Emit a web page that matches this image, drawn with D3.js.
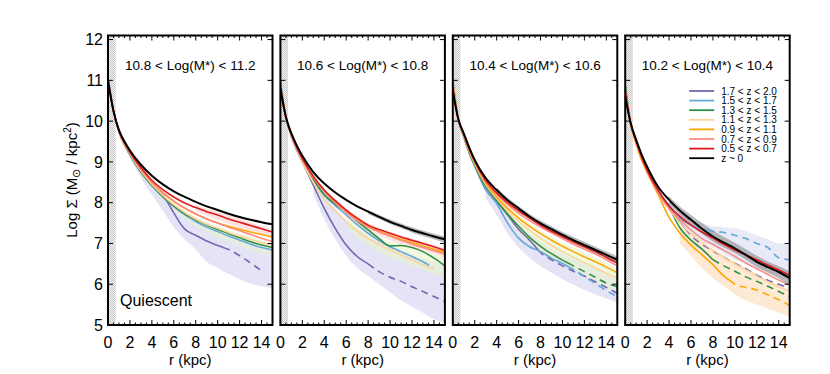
<!DOCTYPE html>
<html>
<head>
<meta charset="utf-8">
<script src="https://cdn.jsdelivr.net/npm/d3@7"></script>
<style>
  body { margin: 0; background: #fff; }
  text { font-family: "Liberation Sans", Arial, Helvetica, sans-serif; fill: #000; }
</style>
</head>
<body>
<script>
// radii (kpc) where the profiles were read
var radii = [0, 0.5, 1, 1.5, 2, 3, 4, 5, 6, 7, 8, 9, 10, 11, 12, 13, 14, 15];

var zLabels = ["1.7 < z < 2.0", "1.5 < z < 1.7", "1.3 < z < 1.5", "1.1 < z < 1.3",
               "0.9 < z < 1.1", "0.7 < z < 0.9", "0.5 < z < 0.7", "z ~ 0"];
var colors = ["#7566b0", "#62a8d8", "#2f8f45", "#fdd49e", "#ffa500", "#fb8a80", "#e0191e", "#000000"];

var panelTitles = ["10.8 < Log(M*) < 11.2", "10.6 < Log(M*) < 10.8",
                   "10.4 < Log(M*) < 10.6", "10.2 < Log(M*) < 10.4"];
var xTicks = [0, 2, 4, 6, 8, 10, 12, 14];
var yTicks = [5, 6, 7, 8, 9, 10, 11, 12];

// profiles per panel, order = zLabels
var profiles1 = [
  [11.0,10.25,9.74,9.42,9.18,8.78,8.5,8.2,7.75,7.35,7.2,7.06,6.95,6.85,6.7,6.52,6.33,null],
  [11.1,10.25,9.74,9.42,9.18,8.75,8.42,8.14,7.9,7.7,7.54,7.4,7.29,7.18,7.08,6.98,6.9,6.84],
  [11.05,10.25,9.74,9.42,9.18,8.75,8.42,8.15,7.92,7.73,7.58,7.45,7.34,7.24,7.14,7.04,6.96,6.9],
  [11.0,10.25,9.74,9.43,9.2,8.78,8.45,8.18,7.95,7.76,7.6,7.47,7.37,7.27,7.18,7.1,7.02,6.96],
  [11.0,10.25,9.75,9.45,9.22,8.82,8.5,8.24,8.03,7.86,7.72,7.6,7.5,7.42,7.35,7.28,7.22,7.16],
  [11.0,10.25,9.75,9.45,9.22,8.82,8.5,8.25,8.04,7.87,7.73,7.6,7.5,7.4,7.31,7.22,7.13,7.05],
  [11.0,10.25,9.76,9.47,9.24,8.86,8.55,8.32,8.14,7.99,7.88,7.78,7.7,7.6,7.52,7.44,7.36,7.28],
  [11.0,10.25,9.78,9.5,9.28,8.93,8.66,8.45,8.28,8.14,8.02,7.91,7.82,7.73,7.65,7.58,7.52,7.47]
];
var profiles2 = [
  [10.8,10.1,9.62,9.28,9.0,8.43,7.86,7.37,6.96,6.68,6.5,6.31,6.17,6.07,5.94,5.82,5.7,5.57],
  [11.0,10.1,9.66,9.32,9.03,8.56,8.18,7.93,7.7,7.46,7.25,7.07,6.92,6.8,6.68,6.55,6.4,null],
  [10.9,10.1,9.66,9.32,9.04,8.58,8.2,7.97,7.78,7.55,7.33,7.12,6.94,6.95,6.9,6.8,6.64,6.45],
  [10.8,10.1,9.65,9.3,9.0,8.5,8.08,7.8,7.54,7.3,7.12,6.98,6.84,6.72,6.6,6.48,6.37,null],
  [10.85,10.1,9.67,9.34,9.06,8.62,8.28,8.0,7.78,7.58,7.42,7.3,7.2,7.1,7.02,6.94,6.86,6.78],
  [10.8,10.1,9.67,9.34,9.06,8.62,8.28,8.0,7.76,7.56,7.4,7.28,7.18,7.08,6.98,6.9,6.82,6.74],
  [10.8,10.1,9.68,9.35,9.08,8.65,8.31,8.05,7.82,7.62,7.45,7.34,7.25,7.16,7.08,7.0,6.92,6.83],
  [10.8,10.1,9.7,9.4,9.15,8.75,8.47,8.25,8.07,7.91,7.78,7.65,7.53,7.43,7.33,7.25,7.17,7.1]
];
var profiles3 = [
  [10.8,10.05,9.62,9.22,8.9,8.32,8.03,7.7,7.35,7.08,6.78,6.6,6.45,6.32,6.2,6.06,5.92,5.78],
  [10.9,10.05,9.62,9.22,8.9,8.32,7.98,7.5,7.13,6.92,6.8,6.64,6.51,6.36,6.19,6.02,5.84,5.7],
  [11.0,10.05,9.62,9.24,8.92,8.4,8.06,7.72,7.42,7.15,6.93,6.75,6.59,6.45,6.31,6.17,6.03,5.94],
  [10.9,10.05,9.64,9.26,8.95,8.45,8.1,7.8,7.54,7.32,7.12,6.95,6.8,6.66,6.53,6.4,6.27,6.15],
  [10.9,10.05,9.65,9.28,8.98,8.48,8.14,7.86,7.62,7.42,7.24,7.08,6.93,6.8,6.67,6.55,6.42,6.28],
  [10.9,10.05,9.66,9.3,9.0,8.52,8.2,7.95,7.74,7.56,7.4,7.26,7.12,6.98,6.86,6.74,6.6,6.45],
  [10.8,10.05,9.68,9.32,9.02,8.55,8.24,8.0,7.8,7.62,7.45,7.3,7.17,7.04,6.92,6.8,6.66,6.52],
  [10.75,10.05,9.7,9.35,9.05,8.6,8.31,8.06,7.86,7.66,7.49,7.35,7.21,7.08,6.96,6.84,6.72,6.6]
];
var profiles4 = [
  [10.7,9.95,9.5,9.12,8.8,8.3,7.88,7.52,7.2,6.98,6.82,6.66,6.51,6.38,6.22,6.1,6.0,5.9],
  [10.75,9.95,9.5,9.12,8.8,8.28,7.95,7.62,7.45,7.36,7.3,7.27,7.2,7.12,7.0,6.9,6.65,6.6],
  [10.9,9.95,9.48,9.08,8.75,8.3,7.88,7.38,7.08,6.86,6.6,6.45,6.32,6.18,6.07,5.95,5.82,5.7],
  [10.75,9.95,9.48,9.08,8.74,8.22,7.84,7.5,7.24,7.02,6.84,6.66,6.5,6.35,6.2,6.06,5.94,5.82],
  [10.75,9.9,9.44,9.04,8.75,8.2,7.64,7.25,6.96,6.72,6.48,6.2,6.0,5.92,5.86,5.74,5.62,5.48],
  [10.75,9.95,9.48,9.1,8.78,8.25,7.86,7.58,7.33,7.12,6.98,6.83,6.68,6.52,6.38,6.24,6.1,5.98],
  [10.75,9.95,9.5,9.12,8.8,8.3,7.92,7.66,7.45,7.28,7.13,6.98,6.84,6.72,6.6,6.47,6.35,6.22],
  [10.6,9.95,9.54,9.18,8.88,8.39,8.07,7.8,7.58,7.36,7.17,7.02,6.88,6.72,6.55,6.42,6.3,6.15]
];
// radius where each profile turns dashed (null = solid all the way)
var dash1 = [10.5, null, null, null, null, null, null, null];
var dash2 = [8, 13, null, null, null, null, null, null];
var dash3 = [7.8, 10.5, 10.5, null, null, null, null, null];
var dash4 = [5.5, 7.5, 8, null, 9.5, null, null, null];

// uncertainty bands: z index, lower and upper edges
var bands1 = [
  {z: 0, lo: [null,null,null,null,9.1,8.6,8.2,7.8,7.4,7.1,6.85,6.55,6.4,6.25,6.12,6.02,5.95,5.9],
         hi: [null,null,null,null,9.2,8.75,8.42,8.14,7.9,7.7,7.52,7.38,7.26,7.15,7.06,6.98,6.92,6.88]},
  {z: 3, lo: [null,null,null,null,null,null,null,null,7.82,7.6,7.42,7.28,7.15,7.04,6.94,6.85,6.78,6.72],
         hi: [null,null,null,null,null,null,null,null,7.98,7.8,7.65,7.52,7.42,7.33,7.24,7.16,7.08,7.0]},
  {z: 5, lo: [null,null,null,null,null,null,null,null,null,null,7.8,7.68,7.58,7.48,7.38,7.3,7.22,7.14],
         hi: [null,null,null,null,null,null,null,null,null,null,7.95,7.85,7.78,7.7,7.62,7.52,7.42,7.34]}
];
var bands2 = [
  {z: 0, lo: [null,null,null,null,null,8.2,7.6,7.1,6.7,6.4,6.2,6.0,5.8,5.6,5.45,5.3,5.15,5.05],
         hi: [null,null,null,null,null,8.6,8.2,7.85,7.55,7.35,7.18,7.03,6.92,6.82,6.72,6.63,6.55,6.5]},
  {z: 3, lo: [null,null,null,null,null,null,null,null,7.4,7.15,6.95,6.78,6.65,6.55,6.45,6.35,6.25,6.15],
         hi: [null,null,null,null,null,null,null,null,7.7,7.48,7.3,7.16,7.06,6.98,6.9,6.82,6.74,6.66]},
  {z: 5, lo: [null,null,null,null,null,null,null,null,7.68,7.48,7.3,7.18,7.08,6.98,6.9,6.82,6.74,6.66],
         hi: [null,null,null,null,null,null,null,null,7.85,7.66,7.5,7.38,7.28,7.2,7.12,7.04,6.96,6.88]},
  {z: 7, lo: [null,null,null,null,null,null,null,null,null,null,7.72,7.6,7.48,7.37,7.27,7.18,7.1,7.02],
         hi: [null,null,null,null,null,null,null,null,null,null,7.82,7.7,7.59,7.49,7.4,7.32,7.24,7.17]}
];
var bands3 = [
  {z: 0, lo: [null,null,null,null,null,8.1,7.7,7.25,6.9,6.65,6.45,6.28,6.12,5.98,5.86,5.75,5.65,5.55],
         hi: [null,null,null,null,null,8.4,8.1,7.8,7.5,7.25,7.05,6.88,6.75,6.62,6.5,6.38,6.26,6.16]},
  {z: 3, lo: [null,null,null,null,null,null,8.0,7.6,7.25,7.0,6.82,6.66,6.52,6.38,6.22,6.06,5.9,5.78],
         hi: [null,null,null,null,null,null,8.2,7.92,7.7,7.5,7.32,7.16,7.02,6.9,6.78,6.66,6.54,6.4]},
  {z: 7, lo: [null,null,null,null,null,null,8.25,8.0,7.8,7.6,7.42,7.28,7.14,7.0,6.88,6.76,6.64,6.52],
         hi: [null,null,null,null,null,null,8.37,8.12,7.92,7.72,7.56,7.42,7.28,7.16,7.04,6.92,6.8,6.68]}
];
var bands4 = [
  {z: 1, lo: [null,null,null,null,null,null,7.85,7.5,7.25,7.05,6.9,6.75,6.6,6.5,6.4,6.3,6.2,6.1],
         hi: [null,null,null,null,null,null,8.0,7.75,7.6,7.5,7.42,7.4,7.38,7.3,7.2,7.1,7.0,7.0]},
  {z: 4, lo: [null,null,null,null,null,null,null,7.0,6.7,6.4,6.15,5.95,5.75,5.6,5.5,5.4,5.3,5.2],
         hi: [null,null,null,null,null,null,null,7.45,7.2,7.0,6.85,6.7,6.55,6.4,6.25,6.1,5.98,5.85]},
  {z: 7, lo: [null,null,null,null,null,null,7.98,7.7,7.46,7.24,7.05,6.9,6.76,6.6,6.42,6.28,6.14,5.98],
         hi: [null,null,null,null,null,null,8.15,7.9,7.7,7.5,7.32,7.16,7.02,6.86,6.7,6.56,6.44,6.32]}
];

var panels = [
  {profiles: profiles1, dash: dash1, bands: bands1},
  {profiles: profiles2, dash: dash2, bands: bands2},
  {profiles: profiles3, dash: dash3, bands: bands3},
  {profiles: profiles4, dash: dash4, bands: bands4}
];
var bandColors = ["#d4d2f0", "#d8dcf2", "#e3f2c6", "#e6f3cc", "#fddcb8", "#fbd0ca", "#f8c4be", "#8a8a8a"];

var W = 830, H = 374;
var plotTop = 35.5, plotBottom = 325, pw = 164.5, step = 172.4, left0 = 108;

var svg = d3.select("body").append("svg")
    .attr("width", W)
    .attr("height", H);

// stippled pattern for the inner (PSF) region
var defs = svg.append("defs");
var pat = defs.append("pattern")
    .attr("id", "stip")
    .attr("width", 2).attr("height", 2)
    .attr("patternUnits", "userSpaceOnUse");
pat.append("rect").attr("width", 2).attr("height", 2).attr("fill", "#f2f2f2");
pat.append("rect").attr("width", 1).attr("height", 1).attr("fill", "#c8c8c8");
pat.append("rect").attr("x", 1).attr("y", 1).attr("width", 1).attr("height", 1).attr("fill", "#c8c8c8");

var y = d3.scaleLinear().domain([5, 12.1]).range([plotBottom, plotTop]);

function splitLine(vals, d0) {
  var pts = radii.map(function(r, i) { return [r, vals[i]]; }).filter(function(p) { return p[1] != null; });
  if (d0 == null) return {solid: pts, dashed: []};
  var solid = [], dashed = [];
  for (var i = 0; i < pts.length; i++) {
    if (pts[i][0] <= d0) solid.push(pts[i]);
    if (pts[i][0] >= d0) dashed.push(pts[i]);
  }
  // join point at the dash radius
  for (var j = 1; j < pts.length; j++) {
    if (pts[j - 1][0] < d0 && pts[j][0] > d0) {
      var t = (d0 - pts[j - 1][0]) / (pts[j][0] - pts[j - 1][0]);
      var v = pts[j - 1][1] + t * (pts[j][1] - pts[j - 1][1]);
      solid.push([d0, v]);
      dashed.unshift([d0, v]);
    }
  }
  return {solid: solid, dashed: dashed};
}

panels.forEach(function(p, k) {
  var left = left0 + k * step;
  var x = d3.scaleLinear().domain([0, 15]).range([left, left + pw]);

  var g = svg.append("g");
  var clipId = "clip" + k;
  defs.append("clipPath").attr("id", clipId)
    .append("rect").attr("x", left).attr("y", plotTop).attr("width", pw).attr("height", plotBottom - plotTop);

  var plot = g.append("g").attr("clip-path", "url(#" + clipId + ")");

  // inner region hatch
  plot.append("rect")
      .attr("x", x(0)).attr("y", plotTop)
      .attr("width", x(0.7) - x(0)).attr("height", plotBottom - plotTop)
      .attr("fill", "url(#stip)");

  // bands
  var area = d3.area()
      .defined(function(d) { return d.lo != null && d.hi != null; })
      .x(function(d) { return x(d.r); })
      .y0(function(d) { return y(d.lo); })
      .y1(function(d) { return y(d.hi); })
      .curve(d3.curveMonotoneX);
  p.bands.forEach(function(b) {
    var pts = radii.map(function(r, i) { return {r: r, lo: b.lo[i], hi: b.hi[i]}; });
    plot.append("path")
        .attr("d", area(pts))
        .attr("fill", bandColors[b.z])
        .attr("fill-opacity", b.z == 7 ? 0.6 : 0.6);
  });

  // profiles
  var line = d3.line()
      .x(function(d) { return x(d[0]); })
      .y(function(d) { return y(d[1]); })
      .curve(d3.curveMonotoneX);
  p.profiles.forEach(function(vals, i) {
    var parts = splitLine(vals, p.dash[i]);
    var sw = i == 7 ? 2 : 1.6;
    if (parts.solid.length > 1)
      plot.append("path").attr("d", line(parts.solid))
          .attr("fill", "none").attr("stroke", colors[i]).attr("stroke-width", sw);
    if (parts.dashed.length > 1)
      plot.append("path").attr("d", line(parts.dashed))
          .attr("fill", "none").attr("stroke", colors[i]).attr("stroke-width", sw)
          .attr("stroke-dasharray", "7,5");
  });

  // ticks, inside on all four sides
  var minor = d3.range(0, 15.01, 0.5);
  minor.forEach(function(t) {
    var len = (t % 2 === 0) ? 5 : 2.5;
    g.append("line").attr("x1", x(t)).attr("x2", x(t))
        .attr("y1", plotBottom).attr("y2", plotBottom - len).attr("stroke", "#000").attr("stroke-width", 1);
    g.append("line").attr("x1", x(t)).attr("x2", x(t))
        .attr("y1", plotTop).attr("y2", plotTop + len).attr("stroke", "#000").attr("stroke-width", 1);
  });
  yTicks.forEach(function(t) {
    g.append("line").attr("x1", left).attr("x2", left + 5)
        .attr("y1", y(t)).attr("y2", y(t)).attr("stroke", "#000");
    g.append("line").attr("x1", left + pw).attr("x2", left + pw - 5)
        .attr("y1", y(t)).attr("y2", y(t)).attr("stroke", "#000");
  });

  // frame
  g.append("rect")
      .attr("x", left).attr("y", plotTop)
      .attr("width", pw).attr("height", plotBottom - plotTop)
      .attr("fill", "none").attr("stroke", "#000").attr("stroke-width", 2);

  // x tick labels
  xTicks.forEach(function(t) {
    g.append("text").attr("x", x(t)).attr("y", 348)
        .attr("text-anchor", "middle").style("font-size", "16px").text(t);
  });
  g.append("text").attr("x", left + pw / 2).attr("y", 365)
      .attr("text-anchor", "middle").style("font-size", "15px").text("r (kpc)");

  // title
  g.append("text").attr("x", left + pw / 2).attr("y", 70)
      .attr("text-anchor", "middle").style("font-size", "13.5px").text(panelTitles[k]);

  if (k === 0) {
    yTicks.forEach(function(t) {
      g.append("text").attr("x", left - 5).attr("y", y(t))
          .attr("dy", "0.36em")
          .attr("text-anchor", "end").style("font-size", "16px").text(t);
    });
    g.append("text").attr("x", 120).attr("y", 306)
        .style("font-size", "16px").text("Quiescent");
  }

  if (k === 3) {
    var leg = g.append("g");
    zLabels.forEach(function(lab, i) {
      var ly = 91 + i * 9.6;
      leg.append("line").attr("x1", left + 64).attr("x2", left + 89)
          .attr("y1", ly).attr("y2", ly)
          .attr("stroke", colors[i]).attr("stroke-width", 1.8);
      leg.append("text").attr("x", left + 96).attr("y", ly)
          .attr("dy", "0.35em").style("font-size", "10px").text(lab);
    });
  }
});

// y axis label
var yl = svg.append("text")
    .attr("transform", "translate(77,180) rotate(-90)")
    .attr("text-anchor", "middle")
    .style("font-size", "15px");
yl.append("tspan").text("Log \u03A3 (M");
yl.append("tspan").attr("dy", 3).style("font-size", "11px").text("\u2299");
yl.append("tspan").attr("dy", -3).text(" / kpc");
yl.append("tspan").attr("dy", -6).style("font-size", "10px").text("2");
yl.append("tspan").attr("dy", 6).text(")");
</script>
</body>
</html>
